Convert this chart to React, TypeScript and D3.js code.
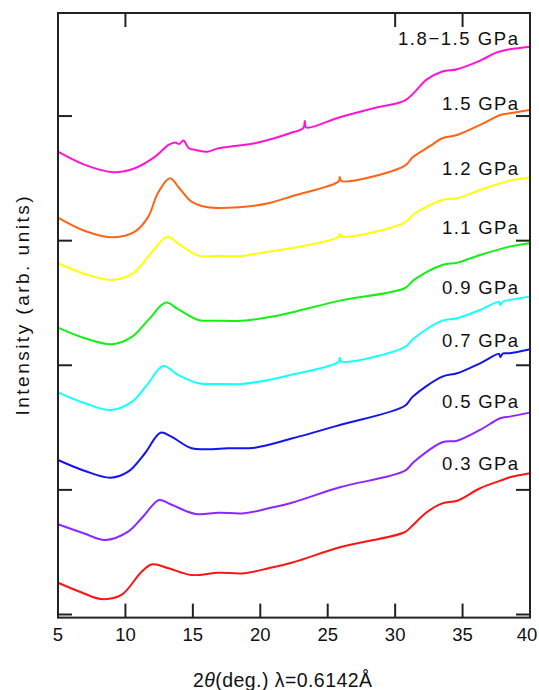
import React from 'react';
import * as d3 from 'd3';

// values: [2theta (deg.), intensity (arb. units, 100 per axis tick)]
const p18_15 = [[5,371.4],[7,360.8],[9.1,354.9],[10.7,358.1],[12.2,367.4],[13.2,376.8],[13.7,378.7],[14.0,377.6],[14.3,380.3],[14.7,374.2],[15.2,372.8],[16.1,371.4],[16.9,374.2],[18.1,376.0],[19.6,378.2],[22.2,386.2],[23.2,390.5],[23.3,396.1],[23.4,390.9],[25.9,399.1],[28.4,406.3],[30.7,412.4],[31.6,421.0],[32.3,429.0],[33.5,435.7],[34.6,437.6],[36.3,444.5],[37.5,450.9],[38.5,453.6],[40,455.7]];
const p15 = [[5,318.5],[7,307.8],[9.1,302.7],[10.7,307.2],[11.7,319.3],[12.4,338.1],[13.3,350.1],[14.0,342.1],[14.9,331.3],[16.1,326.8],[18.4,326.8],[20.6,330.0],[22.4,335.9],[25.8,347.5],[25.9,351.1],[26.0,347.9],[30.7,360.0],[31.3,366.9],[32.6,376.0],[33.5,382.2],[34.6,384.8],[36.3,392.9],[37.8,400.9],[38.5,402.3],[40,404.9]];
const p12 = [[5,281.9],[7,273.3],[9.0,268.5],[10.5,273.3],[11.7,287.2],[13.1,303.2],[13.9,297.9],[15.4,288.0],[16.9,287.7],[18.6,287.7],[20.6,291.2],[22.4,294.2],[25.8,303.0],[25.9,305.4],[26.0,303.2],[30.7,314.5],[31.4,321.4],[33.5,332.7],[34.6,334.0],[36.3,340.7],[38.5,348.2],[40,350.6]];
const p11 = [[5,230.2],[7,221.7],[9.0,216.9],[10.5,223.0],[11.7,236.4],[13.0,250.3],[13.9,245.0],[15.4,236.4],[16.9,235.8],[18.6,235.8],[20.6,238.5],[22.4,242.6],[25.9,251.9],[30.7,261.8],[31.4,268.5],[33.5,280.5],[34.6,282.3],[36.3,288.5],[38.5,295.2],[40,297.9]];
const p09 = [[5,178.3],[7,169.5],[8.9,164.1],[10.5,170.8],[11.6,184.2],[12.8,199.4],[13.9,192.2],[15.4,185.6],[16.9,185.0],[18.6,185.0],[20.6,188.2],[22.4,192.6],[25.8,202.7],[25.9,206.1],[26.0,203.1],[30.7,214.5],[31.4,221.7],[33.5,235.8],[34.6,237.7],[36.3,244.4],[37.7,250.8],[37.8,248.4],[38.0,251.2],[38.5,252.4],[40,255.1]];
const p07 = [[5,124.0],[7,115.2],[8.9,109.8],[10.2,114.6],[11.45,129.4],[12.6,145.9],[13.4,142.7],[14.9,133.4],[16.1,132.6],[17.6,133.4],[19.6,133.9],[22.4,141.4],[25.9,152.1],[30.7,167.3],[31.3,174.8],[33.5,190.9],[34.6,193.6],[36.3,201.6],[37.7,209.1],[37.8,206.7],[38.0,209.5],[38.5,209.6],[40,212.8]];
const p05 = [[5,72.4],[6.9,65.2],[8.5,59.8],[10.2,66.5],[11.3,78.5],[12.5,91.9],[13.3,88.7],[15.2,80.7],[16.9,81.7],[18.8,81.2],[20.6,85.2],[22.4,89.9],[25.9,102.1],[30.7,115.2],[31.4,122.6],[33.5,138.2],[34.6,139.5],[36.3,148.1],[37.8,157.5],[38.5,158.8],[40,162.0]];
const p03 = [[5,25.5],[6.8,17.5],[8.2,12.4],[9.7,15.7],[11.2,34.4],[12.0,40.3],[13.2,37.1],[14.9,31.7],[16.9,33.5],[18.8,33.1],[20.6,37.1],[22.4,41.7],[25.9,53.9],[30.7,66.0],[31.2,70.5],[32.3,81.7],[33.5,89.2],[34.6,91.3],[36.3,101.3],[37.8,107.4],[38.5,110.1],[40,113.3]];

const labels = ['1.8\u22121.5 GPa', '1.5 GPa', '1.2 GPa', '1.1 GPa', '0.9 GPa', '0.7 GPa', '0.5 GPa', '0.3 GPa'];
const labelLevels = [457.1, 405.2, 352.3, 305.7, 257.6, 214.3, 166.0, 116.2];
const xTicks = [5, 10, 15, 20, 25, 30, 35, 40];
const topTicks = [10, 30, 35];
const yTicks = [0, 100, 200, 300, 400];

const series = [p18_15, p15, p12, p11, p09, p07, p05, p03];
const colors = ['#ff14d2', '#ff6414', '#ffff00', '#14f014', '#14ffff', '#1414f0', '#8c28ff', '#ff1414'];

const W = 539;
const H = 690;
const font = 'Liberation Sans, Arial, sans-serif';

export default function App() {
  const x = d3.scaleLinear().domain([5, 40]).range([58, 530]);
  const y = d3.scaleLinear().domain([0, 482.7]).range([614.5, 13]);
  const line = d3
    .line<number[]>()
    .x((d) => x(d[0]))
    .y((d) => y(d[1]))
    .curve(d3.curveCatmullRom.alpha(0.5));

  const top = y.range()[1];
  const bottom = y(-2.5);
  const left = x(5);
  const right = x(40);
  const tick = 14;

  return (
    <svg width={W} height={H} style={{ position: 'absolute', left: 0, top: 0, background: '#fff' }}>
      {series.map((s, i) => (
        <path key={i} d={line(s) || ''} fill="none" stroke={colors[i]} strokeWidth={2} />
      ))}

      {/* frame and ticks */}
      <g stroke="#222" strokeWidth={2} fill="none">
        <rect x={left} y={top} width={right - left} height={bottom - top} />
        {xTicks.map((t) => (
          <line key={'b' + t} x1={x(t)} x2={x(t)} y1={bottom} y2={bottom - tick} />
        ))}
        {topTicks.map((t) => (
          <line key={'t' + t} x1={x(t)} x2={x(t)} y1={top} y2={top + tick} />
        ))}
        {yTicks.map((t) => (
          <g key={'y' + t}>
            <line x1={left} x2={left + tick} y1={y(t)} y2={y(t)} />
            <line x1={right} x2={right - tick} y1={y(t)} y2={y(t)} />
          </g>
        ))}
      </g>

      {/* tick labels */}
      <g fontFamily={font} fontSize={18.5} fill="#111" textAnchor="middle">
        {xTicks.map((t) => (
          <text key={t} x={Math.min(x(t), W - 12)} y={641}>
            {t}
          </text>
        ))}
      </g>

      {/* curve labels */}
      <g fontFamily={font} fontSize={18.5} fill="#111" textAnchor="end">
        {labels.map((l, i) => (
          <text
            key={l}
            x={518}
            y={y(labelLevels[i])}
            textLength={i === 0 ? 120 : 76}
            lengthAdjust="spacing"
          >
            {l}
          </text>
        ))}
      </g>

      <text
        x={193}
        y={687}
        fontFamily={font}
        fontSize={19.5}
        fill="#111"
        textLength={179}
        lengthAdjust="spacing"
      >
        2<tspan fontStyle="italic">θ</tspan>(deg.) λ=0.6142Å
      </text>

      <text
        transform="translate(29,306) rotate(-90)"
        textAnchor="middle"
        fontFamily={font}
        fontSize={19}
        fill="#111"
        textLength={219}
        lengthAdjust="spacing"
      >
        Intensity (arb. units)
      </text>
    </svg>
  );
}
